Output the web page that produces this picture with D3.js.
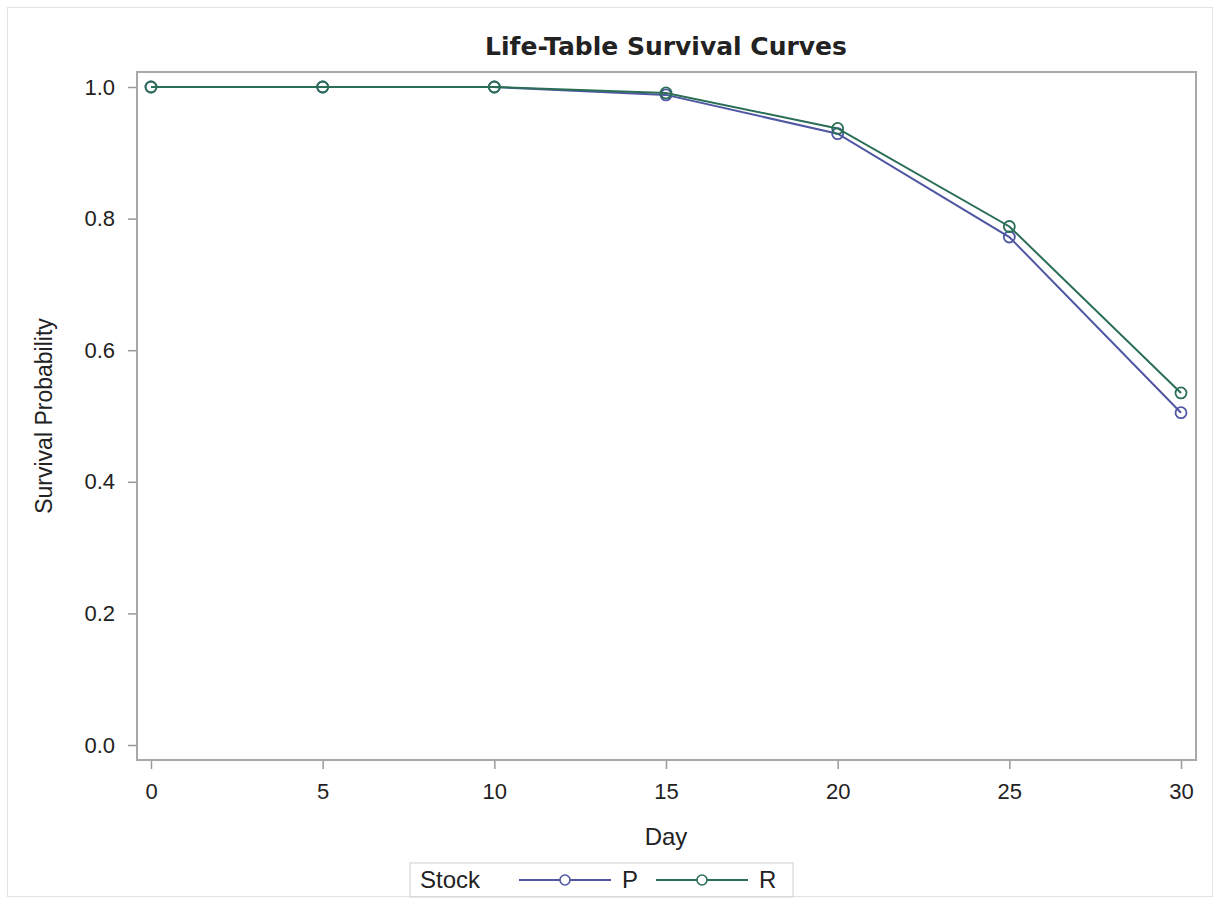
<!DOCTYPE html>
<html>
<head>
<meta charset="utf-8">
<script src="https://cdn.jsdelivr.net/npm/d3@7"></script>
<style>
  body { margin: 0; background: #fff; }
  svg text { font-family: "Liberation Sans", Arial, sans-serif; fill: #222; }
</style>
</head>
<body>
<div id="chart"></div>
<script>
// data
const days = [0, 5, 10, 15, 20, 25, 30];
const survivalP = [1.0, 1.0, 1.0, 0.988, 0.929, 0.772, 0.505];
const survivalR = [1.0, 1.0, 1.0, 0.991, 0.937, 0.788, 0.535];
const xTicks = [0, 5, 10, 15, 20, 25, 30];
const yTicks = [0.0, 0.2, 0.4, 0.6, 0.8, 1.0];
const stocks = ['P', 'R'];
const colors = { P: '#4f57a3', R: '#2a6e55' };

const W = 1216, H = 911;
const margin = { top: 72, right: 20, bottom: 151, left: 137 };
const width = W - margin.left - margin.right;   // plot frame width
const height = H - margin.top - margin.bottom;

const svg = d3.select('#chart')
  .append('svg')
  .attr('width', W)
  .attr('height', H);

// outer frame
svg.append('rect')
  .attr('x', 7.5).attr('y', 7.5)
  .attr('width', 1205).attr('height', 889)
  .attr('fill', 'none')
  .attr('stroke', '#e2e2e2');

const g = svg.append('g')
  .attr('transform', `translate(${margin.left},${margin.top})`);

var x = d3.scaleLinear()
  .domain([0, 30])
  .range([14, width - 15]);

var y = d3.scaleLinear()
  .domain([0, 1])
  .range([673, 15]);

// x axis
const xAxis = g.append('g')
  .attr('transform', `translate(0, ${height})`)
  .call(d3.axisBottom(x).tickValues(xTicks).tickSize(9).tickPadding(14).tickFormat(d3.format('d')));
xAxis.select('.domain').remove();
xAxis.selectAll('line').attr('stroke', '#999').attr('stroke-width', 1.5);
xAxis.selectAll('text').style('font-size', '22px');

// y axis
const yAxis = g.append('g')
  .call(d3.axisLeft(y).tickValues(yTicks).tickSize(9).tickPadding(13).tickFormat(d3.format('.1f')));
yAxis.select('.domain').remove();
yAxis.selectAll('line').attr('stroke', '#999').attr('stroke-width', 1.5);
yAxis.selectAll('text').style('font-size', '22px');

// plot frame
g.append('rect')
  .attr('width', width).attr('height', height)
  .attr('fill', 'none')
  .attr('stroke', '#a8a8a8')
  .attr('stroke-width', 2);

const series = [
  { name: 'P', values: survivalP },
  { name: 'R', values: survivalR }
];

var line = d3.line()
  .x((d, i) => x(days[i]))
  .y(d => y(d));

series.forEach(s => {
  g.append('path')
    .datum(s.values)
    .attr('d', line)
    .style('fill', 'none')
    .style('stroke', colors[s.name])
    .style('stroke-width', 2);

  g.append('g')
    .selectAll('circle')
    .data(s.values)
    .enter()
    .append('circle')
    .attr('cx', (d, i) => x(days[i]))
    .attr('cy', d => y(d))
    .attr('r', 5.5)
    .style('fill', 'none')
    .style('stroke', colors[s.name])
    .style('stroke-width', 1.8);
});

// title + axis labels
svg.append('text')
  .attr('x', 666).attr('y', 55)
  .attr('text-anchor', 'middle')
  .style('font-family', '"DejaVu Sans", Verdana, sans-serif')
  .style('font-weight', 'bold')
  .style('font-size', '25px')
  .text('Life-Table Survival Curves');

svg.append('text')
  .attr('x', margin.left + x(15)).attr('y', 845)
  .attr('text-anchor', 'middle')
  .style('font-size', '24px')
  .text('Day');

svg.append('text')
  .attr('transform', `translate(52, ${margin.top + y(0.5)}) rotate(-90)`)
  .attr('text-anchor', 'middle')
  .style('font-size', '23px')
  .text('Survival Probability');

// legend
const lg = svg.append('g').attr('transform', 'translate(410, 863)');
lg.append('rect')
  .attr('width', 383).attr('height', 34)
  .attr('fill', 'none')
  .attr('stroke', '#d0d0d0');
lg.append('text')
  .attr('x', 10).attr('y', 25)
  .style('font-size', '24px')
  .text('Stock');

stocks.forEach((s, i) => {
  const ox = 109 + i * 137;
  lg.append('line')
    .attr('x1', ox).attr('x2', ox + 92)
    .attr('y1', 17).attr('y2', 17)
    .style('stroke', colors[s])
    .style('stroke-width', 2);
  lg.append('circle')
    .attr('cx', ox + 46).attr('cy', 17).attr('r', 5)
    .style('fill', '#fff')
    .style('stroke', colors[s])
    .style('stroke-width', 1.6);
  lg.append('text')
    .attr('x', ox + 103).attr('y', 25)
    .style('font-size', '24px')
    .text(s);
});
</script>
</body>
</html>
